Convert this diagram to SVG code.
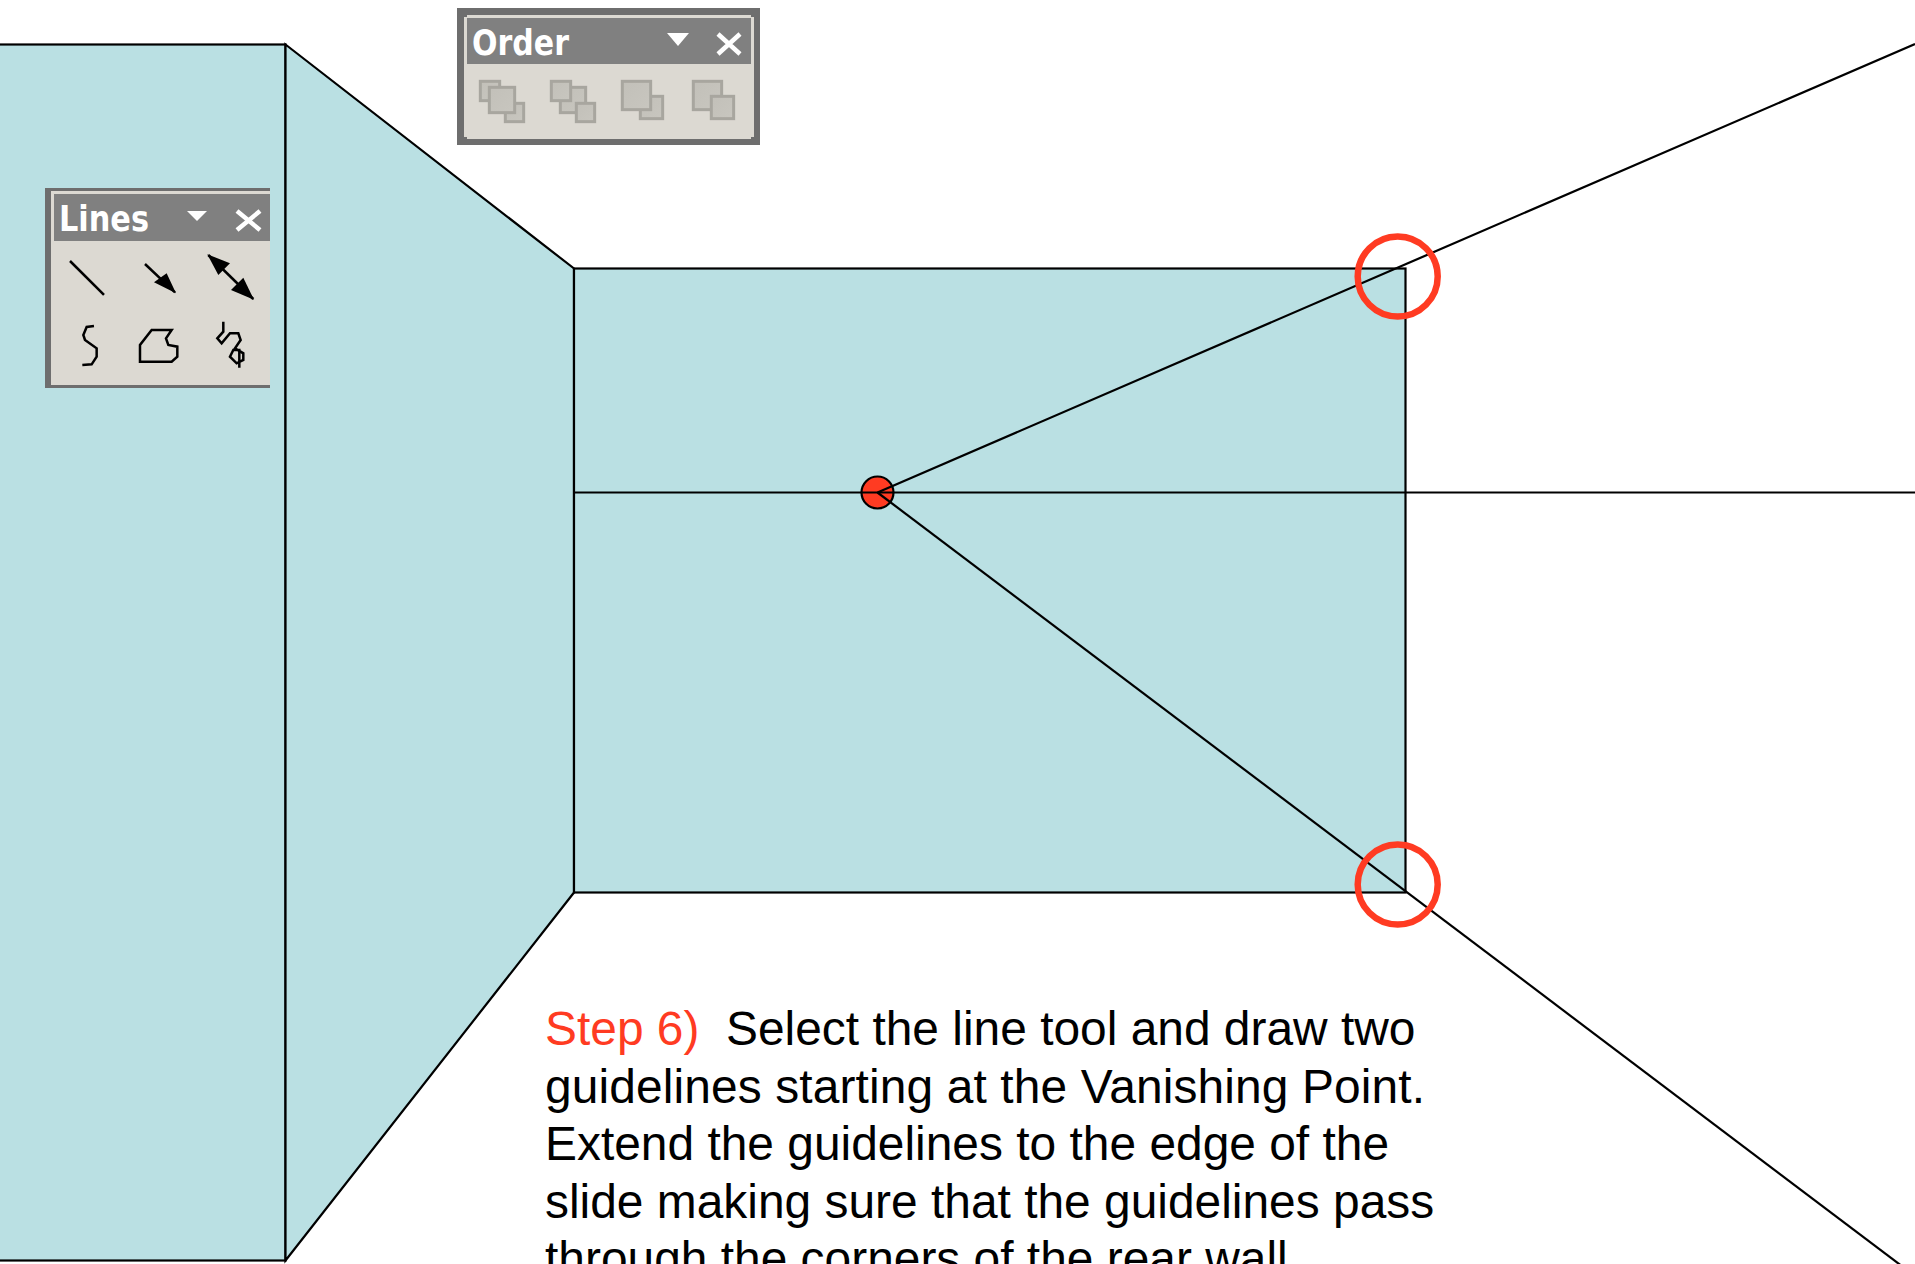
<svg xmlns="http://www.w3.org/2000/svg" width="1915" height="1264" viewBox="0 0 1915 1264">
<style>
.wall{fill:#bae0e3;stroke:#000;stroke-width:2.2}
.guide{fill:none;stroke:#000;stroke-width:2.2}
.ring{fill:none;stroke:#ff3b22;stroke-width:6.5}
.frame{fill:#6e6e6e}.body{fill:#dcd9d2}.bar{fill:#808080}
.tt{font-family:"DejaVu Sans",sans-serif;font-weight:700;fill:#fff;font-size:35px}
.sq{fill:url(#sq);stroke:#a8a69f;stroke-width:9}
.ic{fill:none;stroke:#000;stroke-width:7.5}
.cap{font-family:"Liberation Sans",Arial,sans-serif;font-size:47.9px;fill:#000}
.cls{stroke:#fff;stroke-width:4.5;fill:none}
</style>
<defs>
<linearGradient id="sq" x1="0" y1="0" x2="1" y2="1"><stop offset="0" stop-color="#c2c0b9"/><stop offset="1" stop-color="#c8c6bf"/></linearGradient>
</defs>
<rect width="1915" height="1264" fill="#fff"/>
<g id="left-wall"><rect class="wall" x="-5" y="44.5" width="290.5" height="1216"/></g>
<g id="side-wall"><polygon class="wall" points="285.5,44.5 574,268.5 574,892.5 285.5,1260.5"/></g>
<g id="rear-wall"><rect class="wall" x="574" y="268.5" width="831.5" height="624"/></g>
<g id="vanishing-point"><circle cx="877.5" cy="492.5" r="16" fill="#ff3b22" stroke="#000" stroke-width="2.2"/></g>
<g id="connectors">
<line class="guide" x1="574" y1="492.5" x2="1915" y2="492.5"/>
<line class="guide" x1="877.5" y1="492.5" x2="1915" y2="44"/>
<line class="guide" x1="877.5" y1="492.5" x2="1915" y2="1276"/>
</g>
<g id="corner-top"><circle class="ring" cx="1397.7" cy="276.5" r="40"/></g>
<g id="corner-bottom"><circle class="ring" cx="1397.7" cy="884.5" r="40"/></g>
<g id="order-toolbar">
<rect class="frame" x="457" y="8" width="303" height="137"/>
<rect class="body" x="464" y="17" width="290" height="120"/>
<rect class="body" x="467" y="15" width="284" height="124"/>
<rect class="bar" x="467" y="18" width="284" height="46"/>
<text class="tt" x="472" y="55" textLength="97" lengthAdjust="spacingAndGlyphs">Order</text>
<polygon points="667,33 689,33 678,46" fill="#fff"/>
<path class="cls" d="M718,34L740,54M740,34L718,54"/>
<g transform="translate(450,0) scale(.3333)">
<rect class="sq" x="91" y="244" width="58" height="58"/><rect class="sq" x="166" y="310" width="55" height="55"/><rect class="sq" x="118" y="262" width="76" height="76"/>
<rect class="sq" x="331" y="262" width="76" height="76"/><rect class="sq" x="304" y="244" width="58" height="58"/><rect class="sq" x="379" y="310" width="55" height="55"/>
<rect class="sq" x="571" y="289" width="67" height="67"/><rect class="sq" x="517" y="244" width="85" height="85"/>
<rect class="sq" x="730" y="244" width="85" height="85"/><rect class="sq" x="784" y="289" width="67" height="67"/>
</g>
</g>
<g id="lines-toolbar">
<rect class="frame" x="45" y="188" width="225" height="200"/>
<rect class="body" x="51" y="191" width="219" height="194"/>
<rect class="bar" x="54" y="194" width="216" height="47"/>
<text class="tt" x="59" y="231" textLength="90" lengthAdjust="spacingAndGlyphs">Lines</text>
<polygon points="187,211 207,211 197,221" fill="#fff"/>
<path class="cls" d="M237,211L260,230M260,211L237,230"/>
<g transform="translate(30,175) scale(.3333)">
<path class="ic" d="M120,258L222,360"/>
<path class="ic" d="M345,267L435,352"/>
<polygon points="372,322 410,295 438,355"/>
<path class="ic" d="M535,240L670,372"/>
<polygon points="532,238 600,265 565,300"/>
<polygon points="672,374 603,345 640,308"/>
<path class="ic" d="M192,453L170,456L160,480L165,495L200,520L200,545L185,568L157,570"/>
<path class="ic" d="M330,560V510L365,465H425L408,490L415,510L442,515V545L425,560Z"/>
<path class="ic" d="M580,440V470L562,490L575,505L600,475H625L632,495L615,520L640,535V555L620,565L600,545L610,525H628V578"/>
</g>
</g>
<g id="caption">
<text class="cap" x="545" y="1045"><tspan fill="#ff3b22">Step 6)</tspan><tspan x="726">Select the line tool and draw two</tspan></text>
<text class="cap" x="545" y="1103" textLength="880">guidelines starting at the Vanishing Point.</text>
<text class="cap" x="545" y="1160">Extend the guidelines to the edge of the</text>
<text class="cap" x="545" y="1218">slide making sure that the guidelines pass</text>
<text class="cap" x="545" y="1275">through the corners of the rear wall.</text>
</g>
</svg>
